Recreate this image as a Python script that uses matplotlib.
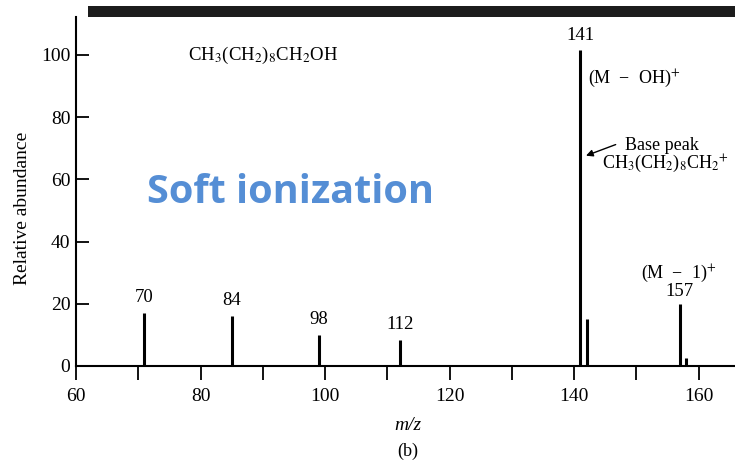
import matplotlib.pyplot as plt
from matplotlib.patches import Rectangle

plt.rcParams['font.family'] = 'Liberation Serif'
plt.rcParams['mathtext.fontset'] = 'stix'

# peaks as drawn (m/z position, relative abundance)
mz = [71, 85, 99, 112, 141, 142, 157, 158]
abundance = [17, 16, 10, 8.5, 101.5, 15, 20, 2.7]

# labelled peaks: index into the arrays above, label text
peakLabels = [(0, '70'), (1, '84'), (2, '98'), (3, '112'), (4, '141'), (6, '157')]

xMajor = [60, 80, 100, 120, 140, 160]
xMinor = [70, 90, 110, 130, 150]
yTicks = [0, 20, 40, 60, 80, 100]

fig = plt.figure(figsize=(7.35, 4.62), dpi=100)
ax = fig.add_axes([76 / 735, 1 - 366 / 462, 1 - 76 / 735, (366 - 17) / 462])

ax.vlines(mz, 0, abundance, colors='black', linewidth=2.2)

ax.set_xlim(60, 165.85)
ax.set_ylim(0, 112.2)

ax.spines['top'].set_visible(False)
ax.spines['right'].set_visible(False)
ax.spines['left'].set_linewidth(1.5)
ax.spines['bottom'].set_linewidth(1.5)

ax.set_xticks(xMajor)
ax.set_xticks(xMinor, minor=True)
ax.set_yticks(yTicks)
ax.tick_params(axis='x', which='both', direction='out', length=10, width=1.3, pad=6, labelsize=14)
ax.tick_params(axis='y', direction='in', length=9, width=1.3, pad=4, labelsize=14)

for i, txt in peakLabels:
	off = 8.5 if txt == '157' else 11
	ax.annotate(txt, (mz[i], abundance[i]), xytext=(0, off), textcoords='offset points',
		ha='center', va='center', fontsize=13.5)

ax.text(78, 100, r'CH$_3$(CH$_2$)$_8$CH$_2$OH', fontsize=13.5, ha='left', va='center')
ax.text(142.3, 92.6, '(M  \u2212  OH)$^{+}$', fontsize=13, ha='left', va='center')
ax.text(148.2, 70.8, 'Base peak', fontsize=13, ha='left', va='center')
ax.text(144.5, 65.2, r'CH$_3$(CH$_2$)$_8$CH$_2$$^{+}$', fontsize=13, ha='left', va='center')
ax.annotate('', xy=(141.5, 67.3), xytext=(147.1, 71.5),
	arrowprops=dict(arrowstyle='-|>', color='black', lw=1.0, mutation_scale=10))
ax.text(156.8, 29.6, '(M  \u2212  1)$^{+}$', fontsize=13, ha='center', va='center')

ax.text(71.4, 52.3, 'Soft ionization', fontsize=28.5, fontweight='bold',
	family='Open Sans', color='#558ed5', ha='left', va='baseline')

fig.text(0.03, 0.548, 'Relative abundance', rotation=90, fontsize=14, ha='center', va='center')
fig.text(0.555, 0.080, 'm/z', fontsize=14, style='italic', ha='center', va='center')
fig.text(0.555, 0.0223, '(b)', fontsize=13, ha='center', va='center')

# thick dark bar across the top of the scanned figure
fig.patches.append(Rectangle((88 / 735, 1 - 17 / 462), 1, 11 / 462,
	transform=fig.transFigure, facecolor='#1c1c1c', edgecolor='none'))

fig.savefig('out.png', dpi=100)
